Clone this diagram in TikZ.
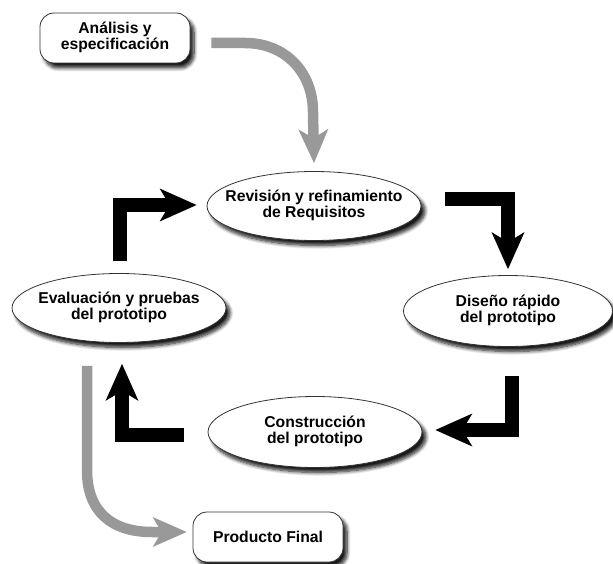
\documentclass[tikz,border=0pt]{standalone}
\usepackage{fontspec}
\setmainfont{Liberation Sans}
\usetikzlibrary{shapes.geometric, arrows.meta, shadows.blur}

\newcommand\twoline[2]{\makebox[0pt]{\begin{tabular}{@{}c@{}}#1\\#2\end{tabular}}}
\newcommand\oneline[1]{\makebox[0pt]{#1}}

\begin{document}
\begin{tikzpicture}[x=1pt,y=-1pt,
  every node/.style={font=\fontsize{15.7}{15}\selectfont\bfseries},
  softshadow/.style={blur shadow={shadow xshift=4pt, shadow yshift=-5pt, shadow blur radius=3.5pt, shadow blur steps=8, shadow opacity=90}},
  phase/.style={ellipse, draw=black!80, line width=0.8pt, fill=white, inner sep=0pt,
    minimum width=214pt, minimum height=69pt, softshadow},
  endbox/.style={rounded corners=14pt, draw=black!80, line width=0.8pt, fill=white, inner sep=0pt,
    minimum width=150pt, minimum height=50pt, softshadow},
  cyc/.style={line width=14pt, line join=miter, draw=black,
    -{Stealth[length=37pt,width=33pt,inset=10pt,line width=0pt]}},
  flow/.style={line width=10.5pt, draw=black!40,
    -{Stealth[length=34pt,width=30pt,inset=9pt,line width=0pt]}}
]
\useasboundingbox (0,0) rectangle (613,564);

\node[endbox] (ana) at (115,38) {\twoline{Análisis y}{especificación}};
\node[endbox] (prod) at (268,537) {\oneline{Producto Final}};
\node[phase] (rev) at (314,206) {\twoline{Revisión y refinamiento}{de Requisitos}};
\node[phase, minimum width=209pt, minimum height=71pt] (dis) at (508,311) {\twoline{Diseño rápido}{del prototipo}};
\node[phase] (eva) at (119,308) {\twoline{Evaluación y pruebas}{del prototipo}};
\node[phase, minimum height=71pt] (con) at (315,432) {\twoline{Construcción}{del prototipo}};

% gray flows
\draw[flow] ([xshift=21pt,yshift=-5pt]ana.east) -- (245,43)
  .. controls (285,43) and (313,72) .. (313,112) -- ([yshift=8pt]rev.north);
\draw[flow] ([xshift=-32pt,yshift=-23pt]eva.south) -- (87,470)
  .. controls (87,512) and (112,532) .. (152,532) -- ([xshift=-6pt,yshift=5pt]prod.west);

% black cycle
\draw[cyc] ([xshift=1pt,yshift=12pt]eva.north) |- ([xshift=-10pt,yshift=1pt]rev.west);
\draw[cyc] ([xshift=24pt,yshift=7pt]rev.east) -| ([yshift=6pt]dis.north);
\draw[cyc] ([xshift=4pt,yshift=-29pt]dis.south) |- ([xshift=13pt,yshift=2pt]con.east);
\draw[cyc] ([xshift=-24pt,yshift=-3pt]con.west) -| ([xshift=3pt,yshift=-21pt]eva.south);
\end{tikzpicture}
\end{document}
